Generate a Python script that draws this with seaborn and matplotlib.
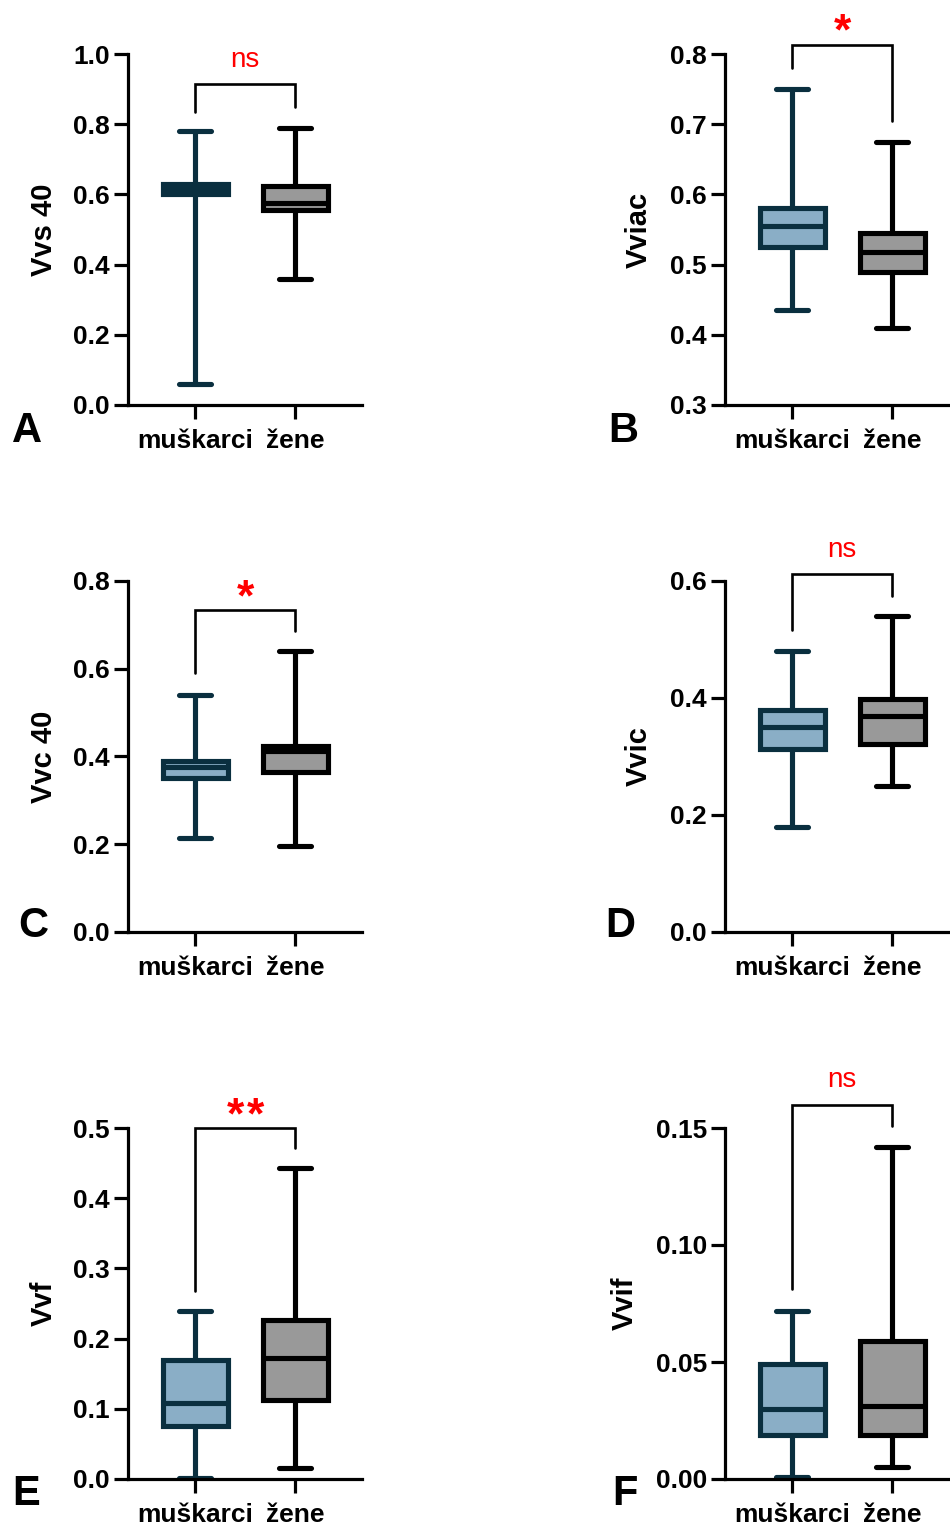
import numpy as np
import pandas as pd
import matplotlib.pyplot as plt
import matplotlib.ticker as mticker
import seaborn as sns

# categories
groups = ["muškarci", "žene"]

# five-number summaries: min, q1, median, q3, max
vvs40_m = [0.06, 0.60, 0.615, 0.63, 0.78]
vvs40_z = [0.36, 0.555, 0.575, 0.625, 0.79]
vviac_m = [0.435, 0.525, 0.555, 0.58, 0.75]
vviac_z = [0.41, 0.49, 0.518, 0.545, 0.675]
vvc40_m = [0.215, 0.35, 0.375, 0.39, 0.54]
vvc40_z = [0.195, 0.365, 0.412, 0.425, 0.64]
vvic_m = [0.18, 0.312, 0.35, 0.38, 0.48]
vvic_z = [0.25, 0.322, 0.37, 0.398, 0.54]
vvf_m = [0.002, 0.075, 0.108, 0.17, 0.24]
vvf_z = [0.015, 0.113, 0.173, 0.227, 0.443]
vvif_m = [0.001, 0.019, 0.030, 0.049, 0.072]
vvif_z = [0.005, 0.019, 0.031, 0.059, 0.142]

ylabels = ["Vvs 40", "Vviac", "Vvc 40", "Vvic", "Vvf", "Vvif"]
letters = ["A", "B", "C", "D", "E", "F"]
signif = ["ns", "*", "*", "ns", "**", "ns"]
# bracket: top, left leg end, right leg end
brackets = [(0.915, 0.835, 0.85), (0.813, 0.78, 0.705), (0.734, 0.59, 0.686),
            (0.612, 0.516, 0.574), (0.5, 0.268, 0.472), (0.160, 0.081, 0.151)]
# baseline of the significance text
sig_y = [0.963, 0.813, 0.734, 0.641, 0.5, 0.1675]
ylims = [(0, 1.0), (0.3, 0.8), (0, 0.8), (0, 0.6), (0, 0.5), (0, 0.15)]
yticks = [np.arange(0, 1.01, 0.2), np.arange(0.3, 0.81, 0.1), np.arange(0, 0.81, 0.2),
          np.arange(0, 0.61, 0.2), np.arange(0, 0.51, 0.1), np.arange(0, 0.151, 0.05)]
yfmt = ["%.1f", "%.1f", "%.1f", "%.1f", "%.1f", "%.2f"]

males = [vvs40_m, vviac_m, vvc40_m, vvic_m, vvf_m, vvif_m]
females = [vvs40_z, vviac_z, vvc40_z, vvic_z, vvf_z, vvif_z]

sns.set_theme(style="ticks")
plt.rcParams["font.family"] = ["Liberation Sans", "DejaVu Sans"]
plt.rcParams["font.weight"] = "bold"
for k in ["text.color", "axes.labelcolor", "xtick.color", "ytick.color", "axes.edgecolor"]:
    plt.rcParams[k] = "black"

W, H = 950, 1524
fig = plt.figure(figsize=(W / 100, H / 100), dpi=100)

fill_m, edge_m = "#8aaec6", "#0a2f3f"
fill_z, edge_z = "#999999", "#000000"

lefts = [128, 725]
tops = [54, 581, 1128]
axh = 351
axw = 234
label_x = [-0.30, -0.31, -0.30, -0.31, -0.30, -0.37]
letter_pos = [(27, 442), (623, 442), (33, 937), (620, 937), (26, 1505), (625, 1505)]

for i in range(6):
    col, row = i % 2, i // 2
    ax = fig.add_axes([lefts[col] / W, 1 - (tops[row] + axh) / H, axw / W, axh / H])
    df = pd.DataFrame({"spol": [groups[0]] * 5 + [groups[1]] * 5,
                       "v": males[i] + females[i]})
    for g, fc, ec in [(groups[0], fill_m, edge_m), (groups[1], fill_z, edge_z)]:
        sns.boxplot(data=df[df["spol"] == g], x="spol", y="v", order=groups,
                    whis=(0, 100), showfliers=False, width=0.65,
                    color=fc, linecolor=ec, linewidth=3.7, saturation=1, ax=ax)
    ax.set_xlim(-0.67, 1.67)
    ax.set_ylim(*ylims[i])
    ax.set_yticks(yticks[i])
    ax.yaxis.set_major_formatter(mticker.FormatStrFormatter(yfmt[i]))
    ax.set_xlabel("")
    ax.set_ylabel(ylabels[i], fontsize=21, fontweight="bold")
    ax.yaxis.set_label_coords(label_x[i], 0.5)
    sns.despine(ax=ax)
    for s in ["left", "bottom"]:
        ax.spines[s].set_linewidth(2.3)
    ax.tick_params(axis="both", width=2.3, length=10, direction="out", labelsize=19, pad=3)
    ax.tick_params(axis="x", pad=7)
    for t in ax.get_xticklabels() + ax.get_yticklabels():
        t.set_fontweight("bold")

    top, l_end, r_end = brackets[i]
    ax.plot([0, 0, 1, 1], [l_end, top, top, r_end], color="black", lw=1.9,
            clip_on=False, solid_joinstyle="miter")
    if signif[i] == "ns":
        ax.text(0.5, sig_y[i], "ns", color="red", fontsize=20, fontweight="normal",
                ha="center", va="baseline")
    else:
        n = len(signif[i])
        # spread the stars a little apart, as in the original
        for k in range(n):
            ax.text(0.5 + (k - (n - 1) / 2) * 0.2, sig_y[i], "*", color="red",
                    fontsize=32, fontweight="bold", ha="center", va="baseline")

    lx, ly = letter_pos[i]
    fig.text(lx / W, 1 - ly / H, letters[i], fontsize=30, fontweight="bold",
             ha="center", va="baseline")

fig.savefig("out.png", dpi=100)
